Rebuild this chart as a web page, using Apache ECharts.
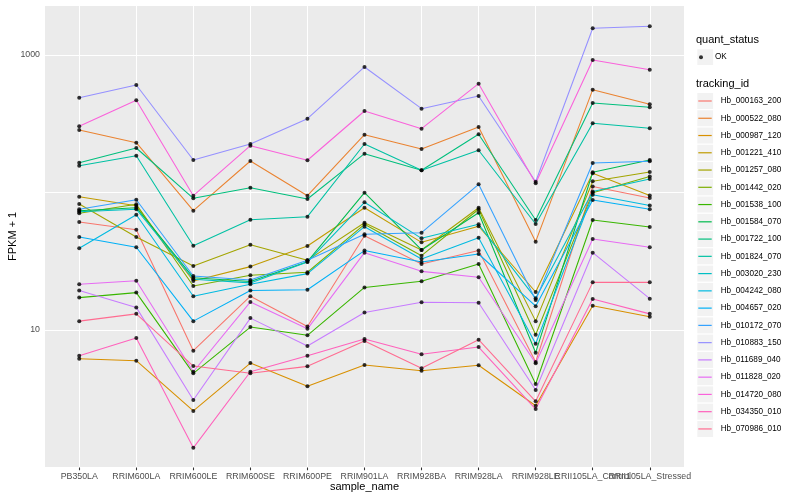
<!DOCTYPE html>
<html><head><meta charset="utf-8">
<script src="https://cdn.jsdelivr.net/npm/echarts@6/dist/echarts.min.js"></script>
<style>html,body{margin:0;padding:0;background:#fff}#c{width:800px;height:500px}</style>
</head><body><div id="c"></div>
<script>
const samples = ['PB350LA','RRIM600LA','RRIM600LE','RRIM600SE','RRIM600PE','RRIM901LA','RRIM928BA','RRIM928LA','RRIM928LE','RRII105LA_Control','RRII105LA_Stressed'];
const trackingIds = ['Hb_000163_200','Hb_000522_080','Hb_000987_120','Hb_001221_410','Hb_001257_080','Hb_001442_020','Hb_001538_100','Hb_001584_070','Hb_001722_100','Hb_001824_070','Hb_003020_230','Hb_004242_080','Hb_004657_020','Hb_010172_070','Hb_010883_150','Hb_011689_040','Hb_011828_020','Hb_014720_080','Hb_034350_010','Hb_070986_010'];

const hb_000163_200 = [61.0, 53.6, 7.07, 17.6, 10.6, 48.5, 30.2, 37.8, 5.85, 110.6, 91.2];
const hb_000522_080 = [284.8, 230.2, 73.7, 169.5, 94.8, 263.3, 207.2, 299.5, 43.9, 559.4, 437.9];
const hb_000987_120 = [6.18, 5.98, 2.58, 5.75, 3.90, 5.57, 5.06, 5.54, 2.81, 15.0, 12.5];
const hb_001221_410 = [93.2, 80.2, 22.7, 28.9, 40.8, 77.5, 43.4, 56.8, 18.9, 137.9, 95.1];
const hb_001257_080 = [82.5, 47.5, 29.2, 41.7, 32.1, 60.3, 38.2, 77.5, 11.6, 120.6, 141.0];
const hb_001442_020 = [70.6, 82.1, 20.9, 25.0, 26.3, 58.7, 34.7, 75.5, 9.24, 99.7, 130.7];
const hb_001538_100 = [17.2, 18.7, 4.84, 10.5, 9.15, 20.4, 22.6, 30.2, 4.05, 63.1, 56.1];
const hb_001584_070 = [73.7, 77.5, 24.0, 22.5, 31.4, 99.7, 38.2, 71.3, 6.84, 140.3, 172.3];
const hb_001722_100 = [164.7, 210.7, 90.7, 108.4, 89.7, 191.5, 145.0, 265.1, 63.1, 447.5, 416.6];
const hb_001824_070 = [156.6, 185.2, 41.0, 63.4, 66.7, 225.3, 145.0, 202.7, 59.0, 318.6, 293.0];
const hb_003020_230 = [72.5, 75.5, 23.4, 22.0, 31.2, 84.9, 46.4, 58.7, 17.0, 101.7, 125.4];
const hb_004242_080 = [39.3, 68.9, 17.6, 21.5, 25.7, 56.4, 32.8, 46.9, 7.95, 96.4, 80.4];
const hb_004657_020 = [47.5, 40.0, 11.6, 19.4, 19.6, 37.8, 31.2, 35.7, 14.9, 88.2, 75.5];
const hb_010172_070 = [75.5, 88.6, 24.7, 23.1, 32.1, 49.7, 51.0, 114.7, 16.5, 163.9, 168.6];
const hb_010883_150 = [489.2, 604.9, 172.3, 225.3, 344.1, 818.0, 407.0, 503.0, 119.8, 1564, 1617];
const hb_011689_040 = [19.4, 14.6, 3.10, 12.2, 7.65, 13.4, 15.9, 15.8, 3.66, 36.5, 16.9];
const hb_011828_020 = [21.5, 22.8, 4.97, 16.0, 10.2, 36.5, 26.7, 24.2, 5.73, 45.9, 40.0];
const hb_014720_080 = [303.0, 468.0, 94.8, 219.0, 171.5, 391.5, 291.1, 618.4, 116.7, 920.0, 781.9];
const hb_034350_010 = [6.50, 8.75, 1.39, 4.97, 6.50, 8.60, 6.66, 7.52, 2.66, 16.8, 13.1];
const hb_070986_010 = [11.6, 13.1, 5.47, 4.84, 5.44, 8.32, 5.27, 8.50, 3.03, 22.2, 22.2];

const yTickLabels = ['10', '1000'];

const valuesList = [hb_000163_200, hb_000522_080, hb_000987_120, hb_001221_410, hb_001257_080, hb_001442_020, hb_001538_100, hb_001584_070, hb_001722_100, hb_001824_070, hb_003020_230, hb_004242_080, hb_004657_020, hb_010172_070, hb_010883_150, hb_011689_040, hb_011828_020, hb_014720_080, hb_034350_010, hb_070986_010];

const palette = ['#F8766D','#EA8331','#D89000','#C09B00','#A3A500','#7CAE00','#39B600','#00BB4E','#00BF7D','#00C1A3','#00BFC4','#00BAE0','#00B0F6','#35A2FF','#9590FF','#C77CFF','#E76BF3','#FA62DB','#FF62BC','#FF6C91'];

const FONT = '"Liberation Sans", Arial, Helvetica, sans-serif';
const sampleIdx = samples.map((_, i) => i);
const evenIdx = sampleIdx.filter(i => i % 2 === 0);
const oddIdx = sampleIdx.filter(i => i % 2 === 1);

const lineSeries = trackingIds.map((id, k) => ({
  name: id, type: 'line', data: valuesList[k].map((v, i) => [i, v]),
  xAxisIndex: 0, symbol: 'none', showSymbol: false, silent: true,
  lineStyle: { width: 1.07, color: palette[k] }, itemStyle: { color: palette[k] }, z: 2
}));
const okPoints = [];
valuesList.forEach(arr => arr.forEach((v, i) => okPoints.push([i, v])));
const okSeries = { name: 'OK', type: 'scatter', data: okPoints, xAxisIndex: 0, symbol: 'circle', symbolSize: 4,
  itemStyle: { color: '#000' }, silent: true, z: 5 };

// legend key backgrounds (style only)
const keyRects = [];
keyRects.push({ type: 'rect', shape: { x: 697.3, y: 49.3, width: 15.8, height: 15.7 }, style: { fill: '#F2F2F2' }, z: 0 });
trackingIds.forEach((_, i) => {
  const cy = 101 + 17.26 * i;
  keyRects.push({ type: 'rect', shape: { x: 697.3, y: cy - 8, width: 15.8, height: 16 }, style: { fill: '#F2F2F2' }, z: 0 });
});

const labelStyle = { fontSize: 8.8, color: '#4D4D4D', margin: 5, fontFamily: FONT, hideOverlap: false,
  showMinLabel: true, showMaxLabel: true, formatter: v => samples[Math.round(v)] || '' };

const chart = echarts.init(document.getElementById('c'), null, { renderer: 'canvas' });
chart.setOption({
  animation: false,
  backgroundColor: '#ffffff',
  textStyle: { fontFamily: FONT },
  grid: { left: 45, right: 116, top: 5.24, bottom: 32.5, show: true, backgroundColor: '#EBEBEB', borderWidth: 0, containLabel: false, outerBoundsMode: 'none' },
  xAxis: [{
    type: 'value', min: -0.6, max: 10.6, position: 'bottom',
    name: 'sample_name', nameLocation: 'middle', nameGap: 13.7, nameMoveOverlap: false,
    nameTextStyle: { fontSize: 11, color: '#000', fontFamily: FONT },
    axisLine: { show: false },
    axisTick: { show: true, length: 2.75, customValues: sampleIdx, lineStyle: { color: '#333333', width: 1.07 } },
    axisLabel: Object.assign({ customValues: evenIdx }, labelStyle),
    splitLine: { show: true, lineStyle: { color: '#ffffff', width: 1.07 } }
  }, {
    type: 'value', min: -0.6, max: 10.6, position: 'bottom', offset: 0,
    axisLine: { show: false }, axisTick: { show: false }, splitLine: { show: false },
    axisLabel: Object.assign({ customValues: oddIdx }, labelStyle)
  }],
  yAxis: {
    type: 'log', logBase: 10, min: 1, max: 2300,
    name: 'FPKM + 1', nameLocation: 'middle', nameRotate: 90, nameGap: 27, nameMoveOverlap: false,
    nameTextStyle: { fontSize: 11, color: '#000', fontFamily: FONT },
    axisLine: { show: false }, axisTick: { show: false },
    axisLabel: {
      fontSize: 8.8, color: '#4D4D4D', margin: 5, fontFamily: FONT,
      formatter: v => { const s = yTickLabels.find(t => Math.abs(v - Number(t)) < 1e-6 * Number(t)); return s || ''; },
      showMinLabel: true, showMaxLabel: true
    },
    splitLine: { show: true, lineStyle: { color: '#ffffff', width: 1.07 } }
  },
  legend: [
    { data: [{ name: 'OK', icon: 'circle' }], left: 699, top: 49.3, padding: 0, orient: 'vertical',
      itemWidth: 12, itemHeight: 4, selectedMode: false,
      textStyle: { fontSize: 8.2, color: '#000', fontFamily: FONT, lineHeight: 15.7, padding: [0, 0, 0, 3] } },
    { data: trackingIds, left: 698.3, top: 92.37, padding: 0, orient: 'vertical', itemGap: 0,
      icon: 'rect', itemWidth: 13.4, itemHeight: 1.2, selectedMode: false,
      textStyle: { fontSize: 8.2, color: '#000', fontFamily: FONT, lineHeight: 17.26, padding: [0, 0, 0, 4] } }
  ],
  graphic: [
    ...keyRects,
    { type: 'text', left: 696, top: 34.5, style: { text: 'quant_status', font: '11px ' + FONT, fill: '#000' }, z: 1 },
    { type: 'text', left: 696, top: 78, style: { text: 'tracking_id', font: '11px ' + FONT, fill: '#000' }, z: 1 }
  ],
  series: [...lineSeries, okSeries]
});
</script></body></html>
